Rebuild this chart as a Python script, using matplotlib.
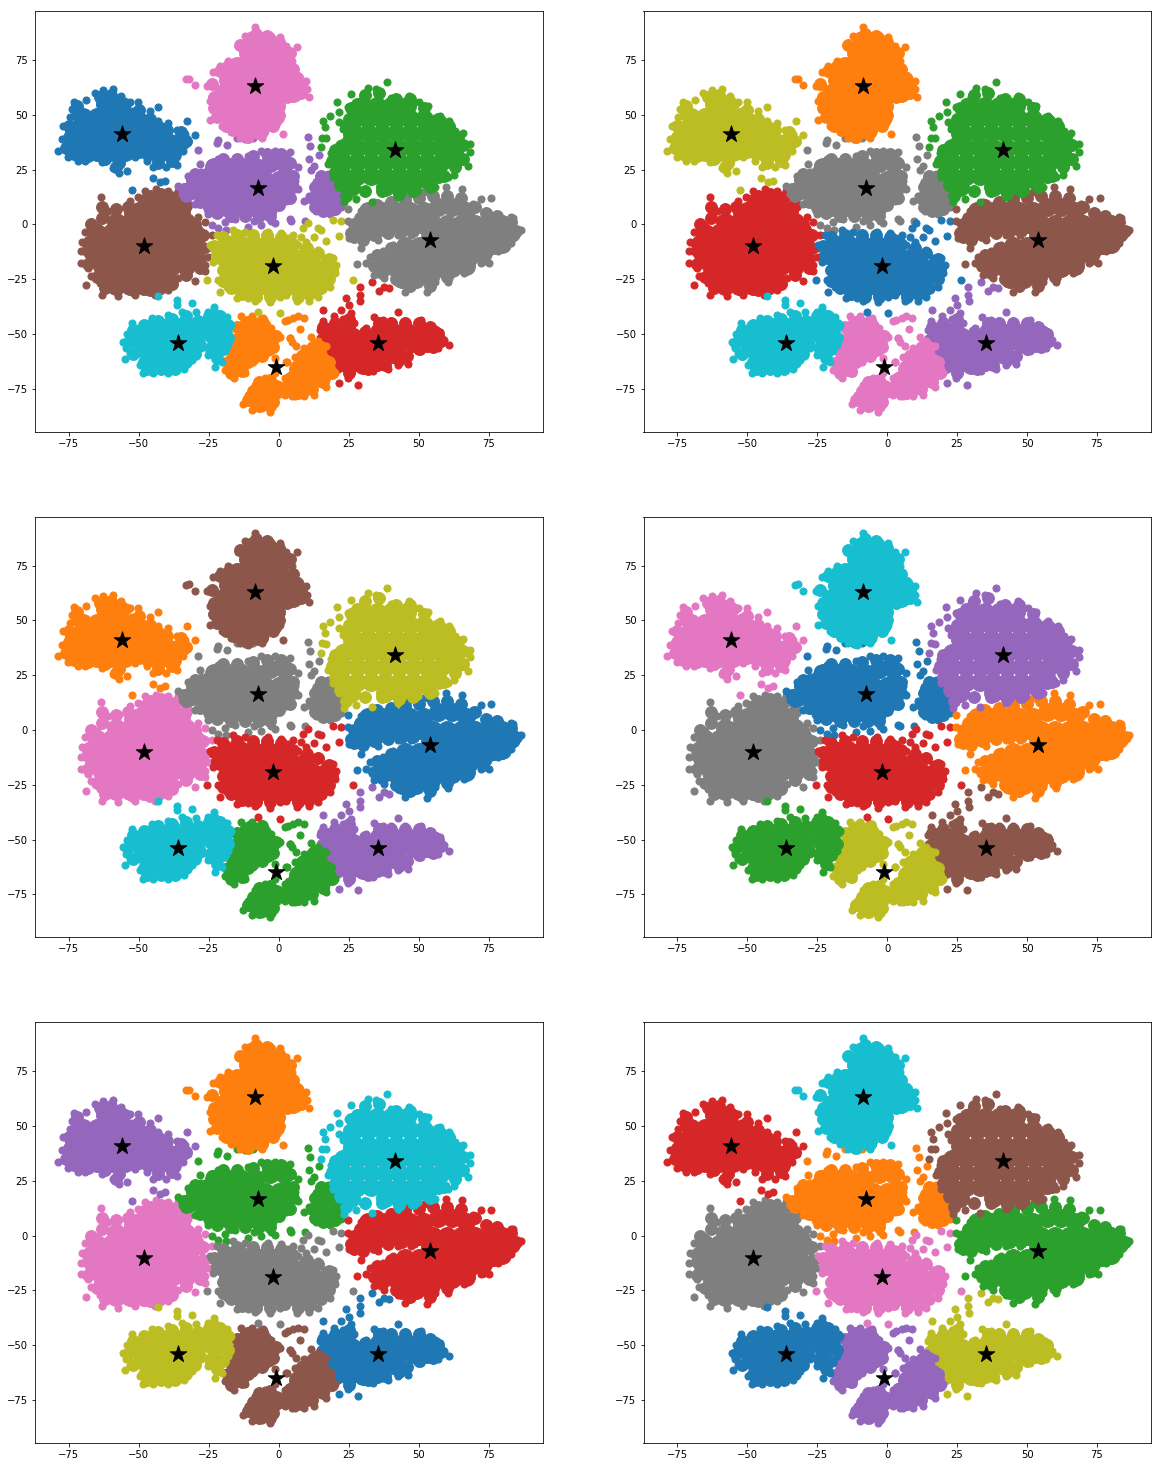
import numpy as np
import matplotlib
matplotlib.use("Agg")
import matplotlib.pyplot as plt

# cluster points, in tsne units
# core = middle of the blob (drawn fat), fill = between middle and rim, edge = rim and stragglers
a_core = [(-9,84),(-4,84),(-11,78),(-6,78),(-1,78),(-15,72),(-10,72),(-5,72),(0,72),
          (-18,66),(-13,66),(-8,66),(-3,66),(2,66),(6,66),(-20,60),(-15,60),(-10,60),(-5,60),(0,60),(5,60),
          (-19,54),(-14,54),(-9,54),(-4,54),(-1,54),(-17,48),(-12,48),(-7,48),(-2,48),(-12,43),(-7,43)]
a_fill = [(-14,82),(-8,87),(-4,86),(0,83),(3,76),(5,71),(8,64),(8,60),(-18,72),(-21,70),(-24,64),(-23,58),
          (-23,53),(-22,49),(-19,45),(-16,43),(-11,40),(-6,42),(-2,45),(0,50),(4,78),(3,58)]
a_edge = [(-8.5,90),(-12.1,86),(0.4,85.5),(-3.8,86),(-14.5,81.4),(1,79),(4.6,74.6),(-18,74.6),(-21,72.3),
          (-23.4,69.6),(-32,66.5),(-33,66.3),(-30,63.6),(-25.6,63.2),(-24.6,56.4),(-24.6,47.7),(-22.2,49.5),
          (-20.4,45),(-16.9,42),(-10.9,38.9),(-5,42.7),(0.4,48),(0.4,53.3),(1.4,41.2),(9.8,65.5),(6.5,81),
          (2.7,81.4),(4.5,71.6),(10.8,58.3),(10.1,61.7),(7.5,59.1),(3.3,57.9),(-14,39.5),(-6,39.5)]

b_core = [(-62,55),(-57,55),(-70,49),(-65,49),(-60,49),(-55,49),(-50,47),(-73,43),(-68,43),(-63,43),(-58,43),
          (-53,43),(-48,43),(-43,43),(-74,37),(-69,37),(-64,37),(-59,37),(-54,37),(-49,37),(-44,37),(-39,37),
          (-35,38),(-70,33),(-65,33),(-60,33),(-55,33),(-43,32),(-38,32)]
b_fill = [(-75,45),(-75,40),(-76,35),(-72,50),(-72,54),(-64,58),(-60,59),(-55,55),(-50,52),(-46,48),(-40,43),
          (-35,42),(-33,38),(-37,34),(-38,29),(-43,28),(-47,32),(-50,33),(-57,28),(-62,30),(-68,31),(-73,32),(-58,26)]
b_edge = [(-78.8,33.6),(-77,45),(-77.6,38.9),(-74.6,48.8),(-73,56),(-68.7,56.6),(-74,52.5),(-65.7,60.1),
          (-62.7,61.2),(-59.1,61.7),(-56.2,58.6),(-53.2,55.6),(-50.2,55.6),(-52.3,51.5),(-49.6,51.5),(-46,51.5),
          (-43,53.6),(-43,47.3),(-39.5,46.3),(-32.6,47.2),(-36.5,43),(-33.5,41.2),(-30,40.9),(-32.3,37.4),
          (-34.1,33.6),(-36.5,27.2),(-40.1,26),(-44.8,26),(-47.2,29),(-51.4,30.5),(-54.1,24.4),(-57.1,23.4),
          (-59.1,25.7),(-63.3,28.2),(-69.2,29),(-71.9,29),(-75.2,30.8),(-45.1,21),(-42.5,19.1),(-40.7,19.9),(-52.5,15.8)]

c_core = [(30,54),(35,54),(40,54),(46,54),(27,48),(32,48),(37,48),(42,48),(47,48),(52,48),(57,46),
          (27,41.5),(32,41.5),(37,41.5),(42,41.5),(47,41.5),(52,41.5),(57,41.5),(61,41),
          (23,35),(28,35),(33,35),(38,35),(43,35),(48,35),(53,35),(58,35),(63,35),
          (23,28.5),(28,28.5),(33,28.5),(38,28.5),(43,28.5),(48,28.5),(53,28.5),(58,28.5),(63,30),
          (23,22),(28,22),(33,22),(38,22),(43,22),(48,22),(53,22),(57,23),(26,17),(38,17),(43,17),(48,19),(53,20)]
c_fill = [(26,53),(31,59),(36,60),(42,57),(47,57),(52,53),(57,48),(61,45),(64,40),(66,36),(66,30),(63,26),(59,22),
          (54,17),(48,15),(43,14),(37,15),(31,15),(24,13),(22,18),(20,24),(19,29),(20,34),(25,41),(24,45),(25,48),(28,55)]
c_edge = [(38.8,64.7),(31.9,62.4),(25.9,59.4),(34.8,61.7),(30.1,57.9),(20.9,55.9),(21.5,51.3),(18.4,49.4),
          (15.8,47.2),(16.4,44.2),(17,39.3),(15,35.1),(18.8,32.4),(17.6,27.5),(19.4,21.4),(21.7,16.8),(23.5,10),
          (27.7,11.5),(30.3,14.6),(33.3,10.4),(36.6,14.6),(42.6,12.3),(49.7,15.3),(55.7,16.8),(60.4,21.4),
          (62.8,22.6),(67.6,26.7),(68.5,33.1),(68.5,36.6),(65.8,41.5),(63.1,42.7),(61,47.2),(57.5,49.5),
          (53.3,54),(50.3,55.6),(46.7,58.6),(40.2,57.6),(24.7,53.3),(21.7,46.5),(22.9,43.4),(24.1,38.9),(15.5,39.5)]

d_core = [(-3,28),(2,28),(-23,26),(-18,26),(-13,26),(-8,26),(-30,20),(-25,20),(-20,20),(-15,20),(-10,20),(-5,20),(0,20),(3,21),
          (-32,15),(-27,14),(-22,14),(-17,14),(-12,14),(-7,14),(-2,14),(2,14),(-24,8),(-19,8),(-14,8),(-9,8),(-4,8),
          (15,15),(19,15),(15,10),(19,10)]
d_fill = [(-34,16),(-30,23),(-24,27),(-20,30),(-15,30),(-9,31),(-4,32),(1,32),(4,28),(5,22),(5,17),(4,12),(0,9),(-3,4),
          (-7,4),(-12,4),(-17,4),(-22,5),(-28,10),(-33,13),(-25,24),(12,12),(13,8),(16,6),(20,7),(21,12),(20,17),(14,19),
          (16,21),(15,22),(18,20),(13,17)]
d_edge = [(-36,17.6),(-32.3,21.9),(-27.6,24),(-21.6,29.8),(-28.2,27.5),(-28.8,33.9),(-21.6,38.4),(-22,37),(-18.4,36.3),
          (-11,31.3),(-6.2,33.6),(-1.4,33.6),(3.9,32.8),(6.9,26),(5.7,19.9),(6.9,16),(2.7,10.8),(1,10),(-2,6.2),
          (-2.6,1.6),(4,2.4),(-8.8,1.6),(-15.7,2.4),(-19.3,0.9),(-25.2,4.7),(-30,9.2),(-34.7,13.8),(-24,-0.2),
          (-21.6,-1.8),(-19,-2.5),(-11,-1),(-6.2,-0.3),(-1.4,0.5),(10.4,40),(11.3,35.8),(10.8,30),(14.4,31.6),
          (12.8,26.7),(11.6,24.9),(14.6,22.2),(17.6,22.9),(11,13),(9.2,10.7),(13.4,6.2),(18.2,4.7),(22.3,7.7),
          (21.7,15.3),(4.5,1.6),(9.5,1.6),(-15,39.5),(-12,39),(-9,39.5)]

e_core = [(-44,11),(-39,11),(-50,6),(-45,6),(-40,6),(-35,6),(-58,1),(-53,1),(-48,1),(-43,1),(-38,1),(-33,1),
          (-65,-4),(-60,-4),(-55,-4),(-50,-4),(-45,-4),(-40,-4),(-35,-4),(-30,-4),
          (-67,-9),(-62,-9),(-57,-9),(-52,-9),(-47,-9),(-42,-9),(-37,-9),(-32,-9),
          (-66,-14),(-61,-14),(-56,-14),(-51,-14),(-46,-14),(-41,-14),(-36,-14),(-31,-15),
          (-63,-19),(-58,-19),(-53,-19),(-48,-19),(-43,-19),(-38,-19),(-33,-19),
          (-60,-24),(-55,-24),(-50,-24),(-45,-24),(-40,-24),(-58,-28),(-53,-28),(-48,-28),(-43,-28)]
e_fill = [(-63,8),(-58,7),(-54,8),(-48,11),(-63,3),(-67,0),(-68,-12),(-68,-18),(-65,-24),(-62,-29),(-52,-30),(-46,-30),
          (-38,-27),(-33,-23),(-28,-20),(-28,-16),(-27,-11),(-27,-5),(-30,0),(-33,9),(-36,13),(-42,14),(-46,13),(-53,5)]
e_edge = [(-69.2,-3.3),(-70.4,-7.9),(-70.8,-12.4),(-70.8,-17.7),(-68.1,-20),(-67.2,-23.5),(-68.9,-27.9),(-63.9,-26.9),
          (-63.3,-32.2),(-57.3,-32.9),(-51.4,-32.2),(-44.2,-32.2),(-39.5,-29.9),(-35.9,-24.6),(-30,-25.8),(-26.4,-21.5),
          (-26.4,-18.5),(-25.2,-14.7),(-25.2,-10.9),(-28.8,-14.7),(-30,-11.7),(-24,-4.8),(-27.6,-7.1),(-28.8,-1.8),
          (-63.5,12.6),(-65.1,-0.6),(-60.9,6.2),(-53.2,10.8),(-50.4,12.3),(-47.8,15.3),(-43.7,16.1),(-39.5,15.3),
          (-36,15.3),(-32.3,7.7),(-28.8,3.2),(-26.4,0.9),(-62.1,3.2)]

f_core = [(-19,-9),(-14,-9),(-9,-9),(-4,-9),(1,-9),(-21,-14),(-16,-14),(-11,-14),(-6,-14),(-1,-14),(4,-14),(9,-15),
          (-18,-19),(-13,-19),(-8,-19),(-3,-19),(2,-19),(7,-19),(12,-19),(16,-20),
          (-16,-24),(-11,-24),(-6,-24),(-1,-24),(4,-24),(9,-24),(14,-24),(-13,-29),(-8,-29),(-3,-29),(2,-29),(7,-29),(11,-29)]
f_fill = [(-23,-10),(-22,-15),(-20,-21),(-20,-26),(-17,-29),(-13,-32),(-8,-33),(-3,-33),(2,-31),(7,-33),(11,-32),(15,-29),
          (18,-25),(19,-21),(18,-16),(14,-13),(10,-11),(5,-9),(1,-6),(-4,-5),(-9,-5),(-15,-5),(-20,-6)]
f_edge = [(-24.6,-9.4),(-22.2,-4.8),(-16.3,-2.5),(-12.1,-3.3),(-3.8,-3.3),(1,-4),(5.2,-4.8),(-25.6,-25.3),(-23.4,-17),
          (-21.6,-25.3),(-21,-30.7),(-18.6,-28.4),(-14.8,-33.7),(-10.9,-33.4),(-8.5,-34.9),(-3.2,-35.5),(0.4,-33),
          (-7.3,-39.8),(0.4,-40.5),(2.7,-32.2),(6.5,-35.2),(11,-34.9),(14,-33),(18.2,-28.4),(20,-22.3),(20.6,-18.5),
          (19.4,-15.5),(16.4,-15.5),(14,-11.7),(10.4,-10.1),(6.9,-9.4),(3.3,-6.3),(26.5,-25.3),(12.8,-6),(17,-7.6),
          (21.5,-5.3),(8.1,-5.6),(9.8,-7.9),(14,-1.8),(8.7,-1.8),(19.4,2),(22.3,1.3),(10.4,0.5),(15,-2.5)]

g_core = [(32,6),(37,6),(42,6),(47,6),(52,6),(57,8),(62,8),(67,6),(30,0),(35,0),(40,0),(45,0),(50,0),(55,0),(60,0),(65,0),(70,0),(75,0),(80,0),
          (29,-3),(34,-3),(54,-5),(59,-5),(64,-5),(69,-5),(74,-5),(79,-5),(83,-4),(45,-10),(50,-10),(55,-10),(60,-10),(65,-10),(70,-10),(75,-10),(80,-9),
          (38,-17),(43,-15),(48,-15),(53,-15),(58,-15),(63,-15),(68,-15),(73,-13),(37,-20),(42,-20),(47,-20),(52,-20),(57,-20),(62,-20),(67,-19),(44,-25),(49,-25),(54,-24)]
g_fill = [(35,9),(40,10),(45,11),(50,12),(55,13),(60,13),(65,12),(70,8),(74,5),(78,4),(83,1),(85,-3),(81,-8),(77,-11),
          (73,-16),(66,-20),(60,-24),(54,-28),(47,-28),(42,-25),(37,-22),(34,-19),(35,-14),(40,-11),(29,3),(27,0),(26,-4),
          (30,-7),(34,-5),(39,-4),(44,-3),(48,-3),(27,-6)]
g_edge = [(24.7,6.9),(29.5,6.2),(34.2,10),(46.1,13),(52.1,14.6),(59.8,16.8),(65.4,16.1),(72.3,11.5),(75.9,11.8),(69.4,9.2),
          (74.7,5.4),(83,3.2),(86.6,-2.5),(83.7,2.8),(83,-8.6),(78.3,-12.4),(75.3,-17.7),(72.3,-17.7),(66.4,-22.3),(60.4,-26.4),
          (52.9,-31),(55.7,-26.1),(45,-30.7),(42.6,-26.9),(37.8,-24.6),(34.2,-23),(31.3,-17.7),(27.9,-18.2),(32.5,-14.7),
          (37.2,-12.4),(40.8,-9.4),(47.3,-4.8),(42.6,-4.8),(35.4,-7.1),(29.5,-10.9),(25.3,-6.3),(26.5,-1.8),(24.7,1.3)]

h_core = [(-45,-47),(-40,-47),(-35,-47),(-30,-47),(-50,-52),(-45,-52),(-40,-52),(-35,-52),(-30,-52),(-24,-50),(-20,-50),
          (-48,-57),(-43,-57),(-38,-57),(-33,-57),(-23,-57),(-44,-62),(-39,-63),(-36,-62),(-25,-45),(-22,-45)]
h_fill = [(-52,-48),(-54,-54),(-52,-59),(-48,-63),(-47,-66),(-42,-66),(-37,-66),(-33,-63),(-30,-59),(-28,-55),(-48,-46),
          (-43,-44),(-38,-43),(-33,-42),(-29,-44),(-25,-42),(-21,-42),(-18,-46),(-18,-52),(-20,-57),(-22,-61),(-24,-56),(-50,-57)]
h_edge = [(-55,-61.4),(-55.6,-53.5),(-54.1,-50.1),(-52.3,-45.1),(-51.4,-47.4),(-49,-45.9),(-45.4,-42.8),(-39.5,-41.3),
          (-36.5,-34.5),(-36.5,-36.7),(-31.1,-36),(-34.7,-39.8),(-29.4,-40.1),(-25.2,-39.8),(-23.2,-37.5),(-22.8,-39.8),
          (-18.6,-42.5),(-16.9,-45.9),(-18.6,-50.4),(-18,-55),(-20.4,-62.6),(-22.8,-64.9),(-25.2,-59.5),(-27.6,-56.5),
          (-31.1,-61.8),(-33.8,-66),(-39.5,-67.9),(-44.8,-67.9),(-48.4,-67.9),(-49.6,-64.1),(-53.2,-58.8),(-54.4,-56.5),
          (-43.1,-32.6),(-26.4,-44.3),(-21.6,-45)]

i_core = [(-11,-46),(-6,-47),(-12,-51),(-7,-51),(-3,-52),(-14,-56),(-9,-56),(-4,-56),(-15,-61),(-10,-60),(-15,-65),
          (-8,-80),(-4,-80),(-6,-76),(-1,-75),(4,-74),(9,-74),(5,-71),(10,-70),(15,-70),(7,-66),(12,-65),(17,-66),(9,-61),(14,-60),(13,-57)]
i_fill = [(-11,-80),(-9,-76),(-7,-83),(-3,-83),(-1,-77),(-7,-72),(-3,-71),(4,-70),(8,-62),(4,-73),(8,-64),(12,-58),(15,-56),
          (18,-63),(19,-68),(16,-72),(12,-75),(7,-77),(2,-76),(-2,-81),(-15,-47),(-10,-44),(-6,-44),(-4,-48),(-1,-51),(-2,-56),
          (-6,-60),(-11,-63),(-13,-67),(-17,-68),(-18,-63),(-17,-58),(-16,-53)]
i_edge = [(-13.3,-42),(-9.7,-42),(-5.5,-42.8),(-2.8,-47.4),(0.4,-51.2),(-5,-59.5),(-9.1,-62.6),(-12.1,-67.9),(-16,-70.2),
          (-19.2,-66.4),(-19.2,-62.6),(-17.5,-56.5),(-15.7,-51.2),(-14.5,-46.6),(2.2,-44.3),(5.2,-42.8),(4,-52),(4.6,-53.5),
          (3.3,-43.6),(6.9,-42),(9,-42.8),(7.7,-47.8),(3.9,-52),(6.3,-55.7),(11.6,-51.6),(2.7,-62.6),(-1.4,-61),(2.8,-62.6),
          (-12.7,-82),(-9.7,-84.6),(-3.2,-85.4),(-10.9,-77.8),(-8.5,-73.2),(-5,-70.2),(-1.4,-67.9),(2.2,-70.2),(5.7,-68.7),
          (5.7,-60.3),(9.2,-56.5),(14,-53.4),(17,-55.7),(17,-61),(20,-67.9),(17,-74),(12.8,-77.8),(9.2,-78.5),(5.7,-78.5),
          (2.1,-77.8),(-1.4,-79.3),(4.6,-78.5),(-6,-84)]

j_core = [(18,-49),(23,-49),(36,-49),(41,-49),(46,-49),(51,-49),(55,-50),(18,-54),(23,-54),(28,-54),(33,-54),(38,-54),(43,-54),(48,-54),(53,-54),
          (21,-59),(26,-59),(31,-59),(36,-59),(41,-59),(25,-64),(30,-64),(35,-63)]
j_fill = [(16,-47),(16,-52),(18,-60),(21,-65),(25,-68),(32,-66),(38,-64),(43,-62),(46,-60),(50,-57),(55,-56),(58,-53),(57,-50),
          (54,-47),(50,-45),(45,-45),(40,-45),(36,-45),(31,-49),(27,-50),(20,-45),(25,-47),(25,-43)]
j_edge = [(28.9,-28.4),(28.9,-32.2),(29.2,-35.2),(24.1,-33.7),(33.4,-26.1),(36,-30.4),(39.6,-29.1),(37.8,-28.4),(25,-37),
          (22.3,-39),(16,-39),(19.6,-42),(19.6,-44.3),(15.8,-44.3),(25.9,-40.5),(27.1,-45.1),(42.6,-40.2),(34,-42.5),
          (37.2,-43.6),(50.9,-43.6),(54.5,-46.6),(57.5,-48.9),(59,-52.7),(60.8,-55),(56.9,-56.5),(50.9,-58),(46.1,-63.6),
          (42.6,-64.1),(39,-65.9),(33.6,-67.1),(28.5,-73.2),(21.4,-72.4),(24.7,-69.9),(19.9,-66.4),(17,-60.3),(14.6,-52),
          (14.6,-48.1),(43.8,-58.8),(31.3,-47.4),(23,-43),(40,-44),(45,-44)]

# star positions, same k-means result in every panel
center_x = [-8.5, -56, 41.5, -7.5, -48, -2, 54, -36, -1, 35.5]
center_y = [63, 41, 34, 16.5, -10, -19, -7, -54, -65, -54]

# colour index of clusters a..j for each panel (labels get shuffled between runs)
panel_labels = [
    [6, 0, 2, 4, 5, 8, 7, 9, 1, 3],
    [1, 8, 2, 7, 3, 0, 5, 9, 6, 4],
    [5, 1, 8, 7, 6, 3, 0, 9, 2, 4],
    [9, 6, 4, 0, 7, 3, 1, 2, 8, 5],
    [1, 4, 9, 2, 6, 7, 3, 8, 5, 0],
    [9, 3, 5, 1, 7, 6, 2, 0, 4, 8],
]

x_lim = (-87.1, 94.3)
y_lim = (-94.6, 97.3)
tick_vals = [-75, -50, -25, 0, 25, 50, 75]

clusters = [(e_core, e_fill, e_edge, 4), (d_core, d_fill, d_edge, 3), (j_core, j_fill, j_edge, 9),
            (i_core, i_fill, i_edge, 8), (h_core, h_fill, h_edge, 7), (f_core, f_fill, f_edge, 5),
            (g_core, g_fill, g_edge, 6), (c_core, c_fill, c_edge, 2), (b_core, b_fill, b_edge, 1),
            (a_core, a_fill, a_edge, 0)]

fig, axes = plt.subplots(3, 2, figsize=(1162 / 72, 1468 / 72), dpi=72)
fig.subplots_adjust(left=35 / 1162, right=1151 / 1162, top=1 - 11 / 1468, bottom=1 - 1443 / 1468,
                    wspace=101 / 507.5, hspace=85 / 421)

for ax, labels in zip(axes.flat, panel_labels):
    for core, fill, edge, idx in clusters:
        col = "C%d" % labels[idx]
        core = np.array(core)
        fill = np.array(fill)
        edge = np.array(edge)
        ax.scatter(edge[:, 0], edge[:, 1], s=50, c=col)
        ax.scatter(fill[:, 0], fill[:, 1], s=140, c=col)
        ax.scatter(core[:, 0], core[:, 1], s=320, c=col)
    ax.scatter(center_x, center_y, marker="*", s=300, c="black", zorder=5)
    ax.set_xlim(x_lim)
    ax.set_ylim(y_lim)
    ax.set_xticks(tick_vals)
    ax.set_yticks(tick_vals)

fig.savefig("out.png", dpi=72)
